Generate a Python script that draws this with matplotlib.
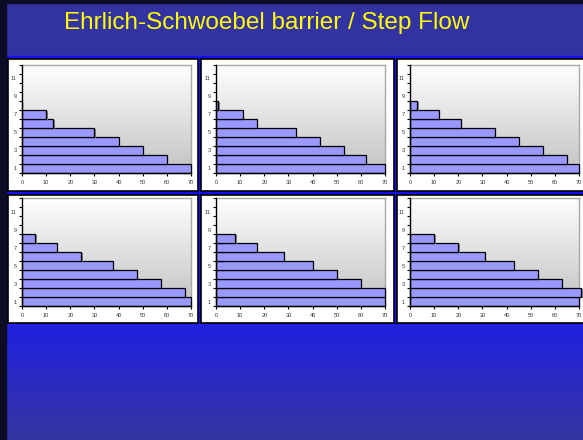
import numpy as np
import matplotlib
matplotlib.use("Agg")
import matplotlib.pyplot as plt
from matplotlib.colors import to_rgb
from matplotlib import patheffects as pe
from matplotlib.patches import Rectangle

plt.rcParams['font.family'] = ['Liberation Sans', 'DejaVu Sans']

# ---- data -------------------------------------------------------------
title = "Ehrlich-Schwoebel barrier / Step Flow"
levels = [1, 2, 3, 4, 5, 6, 7, 8]          # terrace level (category axis)
ytick_labels = ["1", "3", "5", "7", "9", "11"]
xticks = [0, 10, 20, 30, 40, 50, 60, 70]

coverage_t1 = [70, 60, 50, 40, 30, 13, 10, 0]
coverage_t2 = [70, 62, 53, 43, 33, 17, 11, 1]
coverage_t3 = [70, 65, 55, 45, 35, 21, 12, 3]
coverage_t4 = [70, 67.5, 57.5, 47.5, 37.5, 24.5, 14.5, 5.5]
coverage_t5 = [70, 70, 60, 50, 40, 28, 17, 8]
coverage_t6 = [70, 71, 63, 53, 43, 31, 20, 10]
series = [coverage_t1, coverage_t2, coverage_t3,
          coverage_t4, coverage_t5, coverage_t6]

# ---- figure -----------------------------------------------------------
W, H = 583, 440
fig = plt.figure(figsize=(W / 100, H / 100), dpi=100)


def box(x0, y0, x1, y1):
    """pixel box (origin top-left) -> figure fraction rect"""
    return [x0 / W, 1 - y1 / H, (x1 - x0) / W, (y1 - y0) / H]


def vertical_gradient(top, bottom, n=256):
    t = np.linspace(0, 1, n).reshape(-1, 1, 1)
    a = np.array(to_rgb(top)).reshape(1, 1, 3)
    b = np.array(to_rgb(bottom)).reshape(1, 1, 3)
    return a + (b - a) * t


# slide background
bg = fig.add_axes([0, 0, 1, 1])
bg.set_xlim(0, W)
bg.set_ylim(H, 0)
bg.axis("off")
bg.add_patch(Rectangle((0, 0), W, H, color="#3232a2", zorder=0))
# bright blue behind the chart grid
bg.add_patch(Rectangle((6, 56), W - 6, 268, color="#1010f5", zorder=2))

# lower gradient band
low = fig.add_axes(box(0, 324, W, H))
low.axis("off")
low.imshow(vertical_gradient("#2020e2", "#3636a0"), origin="upper",
           aspect="auto", extent=[0, 1, 0, 1])
low.set_xlim(0, 1)
low.set_ylim(0, 1)

# dark frame edges
frame = fig.add_axes([0, 0, 1, 1])
frame.set_xlim(0, W)
frame.set_ylim(H, 0)
frame.axis("off")
frame.add_patch(Rectangle((0, 0), 6, H, color="#0c0c24"))
frame.add_patch(Rectangle((0, 0), W, 3, color="#0c0c24"))

fig.text(267 / W, 1 - 23 / H, title, color="#ffff00", fontsize=17.5,
         ha="center", va="center")

cols_panel = [(8, 198), (201, 394), (397, 600)]
rows_panel = [(59, 191), (195, 323)]
cols_plot = [(22, 191), (216, 385), (410, 579)]
rows_plot = [(65, 173), (198, 306)]

area_img = vertical_gradient("#ffffff", "#c2c2c2")
shadow = [pe.SimplePatchShadow(offset=(1.0, -1.0), shadow_rgbFace="#7a7a7a",
                               alpha=0.9), pe.Normal()]

for i, vals in enumerate(series):
    r, c = divmod(i, 3)
    # white chart box
    pb = fig.add_axes(box(cols_panel[c][0], rows_panel[r][0],
                          cols_panel[c][1], rows_panel[r][1]))
    pb.set_xticks([])
    pb.set_yticks([])
    pb.set_facecolor("white")
    for s in pb.spines.values():
        s.set_color("black")
        s.set_linewidth(1.2)

    ax = fig.add_axes(box(cols_plot[c][0], rows_plot[r][0],
                          cols_plot[c][1], rows_plot[r][1]))
    ax.imshow(area_img, extent=[0, 70, 0.5, 12.5], origin="upper",
              aspect="auto", zorder=0)
    ax.set_xlim(0, 70)
    ax.set_ylim(0.5, 12.5)
    bars = ax.barh(levels, vals, height=1.0, color="#9999ff",
                   edgecolor="black", linewidth=0.9, zorder=3)
    for b in bars:
        b.set_path_effects(shadow)
        b.set_clip_on(False)

    ax.set_xticks(xticks)
    ax.set_xticklabels([str(t) for t in xticks])
    ax.set_yticks([1, 3, 5, 7, 9, 11])
    ax.set_yticklabels(ytick_labels)
    ax.set_yticks(np.arange(0.5, 13, 1), minor=True)
    ax.tick_params(axis="y", which="major", length=0, pad=4, labelsize=4,
                   labelcolor="#333333")
    ax.tick_params(axis="y", which="minor", length=2, width=0.8,
                   direction="out", color="black")
    ax.tick_params(axis="x", length=2, width=0.8, direction="out",
                   labelsize=4, pad=3, labelcolor="#333333")
    for side in ("left", "bottom"):
        ax.spines[side].set_color("black")
        ax.spines[side].set_linewidth(1.0)
        ax.spines[side].set_zorder(5)
    for side in ("top", "right"):
        ax.spines[side].set_color("#a8a8a8")
        ax.spines[side].set_linewidth(1.0)

fig.savefig("out.png", dpi=100)
